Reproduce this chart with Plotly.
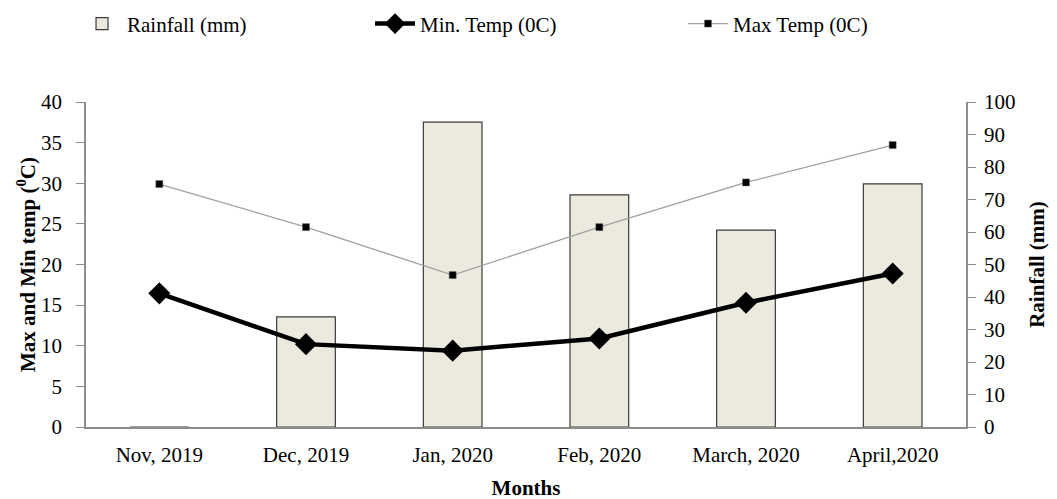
import plotly.graph_objects as go

months = ["Nov, 2019", "Dec, 2019", "Jan, 2020", "Feb, 2020", "March, 2020", "April,2020"]
rainfall = [0, 33.9, 93.8, 71.4, 60.6, 74.8]
min_temp = [16.45, 10.2, 9.4, 10.9, 15.3, 18.9]
max_temp = [29.9, 24.6, 18.7, 24.6, 30.1, 34.7]

FONT = "Liberation Serif"
FS = 21
AX = "#8c8c8c"

fig = go.Figure()
fig.add_trace(go.Bar(
    x=months, y=rainfall, name="Rainfall (mm)", yaxis="y", legend="legend",
    marker=dict(color="#ECEADF", line=dict(color="#3a3a3a", width=1.2)),
    width=0.4,
))
fig.add_trace(go.Scatter(
    x=months, y=min_temp, name="Min. Temp (0C)", yaxis="y2", legend="legend2",
    mode="lines+markers",
    line=dict(color="black", width=4.5),
    marker=dict(symbol="diamond", size=17, color="black"),
))
fig.add_trace(go.Scatter(
    x=months, y=max_temp, name="Max Temp (0C)", yaxis="y2", legend="legend3",
    mode="lines+markers",
    line=dict(color="#a0a0a0", width=1.3),
    marker=dict(symbol="square", size=7, color="black", line=dict(color="#666", width=0.5)),
))

def leg(x):
    return dict(orientation="h", xref="container", yref="container",
                x=x, xanchor="left", y=0.968, yanchor="middle",
                font=dict(family=FONT, size=FS), itemwidth=40,
                bgcolor="rgba(0,0,0,0)")

fig.update_layout(
    width=1057, height=499,
    margin=dict(l=78, r=99, t=94, b=80, autoexpand=False),
    plot_bgcolor="white", paper_bgcolor="white",
    font=dict(family=FONT, size=FS, color="black"),
    showlegend=True,
    legend=leg(0.0653),
    legend2=leg(0.3425),
    legend3=leg(0.6386),
    xaxis=dict(
        showline=True, linecolor=AX, linewidth=1.5, ticks="", showgrid=False,
        layer="above traces", ticklabelstandoff=8,
        tickfont=dict(family=FONT, size=FS),
        title=dict(text="<b>Months</b>", font=dict(family=FONT, size=FS), standoff=14),
    ),
    yaxis=dict(
        side="right", range=[0, 100], dtick=10, showgrid=False, zeroline=False,
        showline=True, linecolor=AX, linewidth=1.5, ticks="outside", ticklen=8,
        tickcolor=AX, tickfont=dict(family=FONT, size=FS), ticklabelstandoff=4,
        title=dict(text="<b>Rainfall (mm)</b>", font=dict(family=FONT, size=FS), standoff=15),
    ),
    yaxis2=dict(
        side="left", overlaying="y", range=[0, 40], dtick=5, showgrid=False, zeroline=False,
        showline=True, linecolor=AX, linewidth=1.5, ticks="outside", ticklen=8,
        tickcolor=AX, tickfont=dict(family=FONT, size=FS), ticklabelstandoff=10,
        title=dict(text="<b>Max and Min temp (<sup>0</sup>C)</b>", font=dict(family=FONT, size=FS), standoff=0),
    ),
)

fig.write_html("out.html")
